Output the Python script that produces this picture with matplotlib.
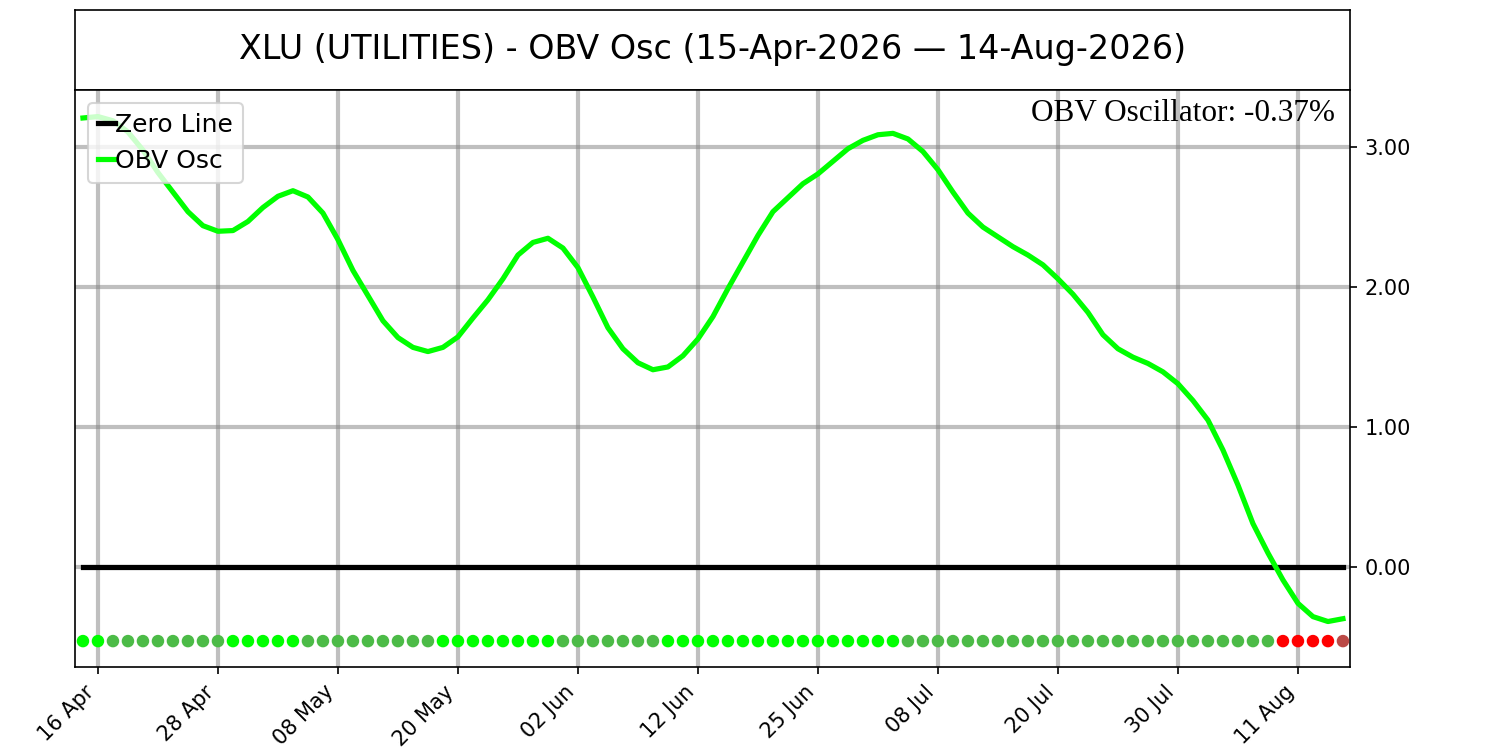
import matplotlib
matplotlib.use('Agg')
import matplotlib.pyplot as plt
import numpy as np
import pandas as pd

symbol = 'XLU'
sector = 'UTILITIES'
start_label = '15-Apr-2026'
end_label = '14-Aug-2026'

# NYSE holidays inside the window
holidays = ['2026-05-25', '2026-06-19', '2026-07-03']
dates = pd.bdate_range('2026-04-15', '2026-08-14', freq='C', holidays=holidays)

# OBV oscillator (%), one value per trading day
obv_osc = [
    3.21, 3.22, 3.19, 3.11, 2.98, 2.82, 2.68, 2.54, 2.44, 2.40,
    2.405, 2.47, 2.57, 2.65, 2.69, 2.645, 2.53, 2.34, 2.12, 1.94,
    1.76, 1.64, 1.57, 1.54, 1.57, 1.645, 1.78, 1.91, 2.06, 2.23,
    2.32, 2.35, 2.28, 2.14, 1.93, 1.71, 1.56, 1.46, 1.41, 1.43,
    1.51, 1.63, 1.79, 1.99, 2.18, 2.37, 2.54, 2.64, 2.74, 2.81,
    2.90, 2.99, 3.05, 3.09, 3.10, 3.06, 2.97, 2.84, 2.68, 2.53,
    2.43, 2.36, 2.29, 2.23, 2.16, 2.06, 1.95, 1.82, 1.66, 1.56,
    1.50, 1.455, 1.395, 1.31, 1.19, 1.05, 0.836, 0.586, 0.31, 0.10,
    -0.093, -0.26, -0.355, -0.39, -0.37,
]

x = np.arange(len(obv_osc))
y = np.array(obv_osc)

# dot colour: rising/falling above or below zero
diff = np.diff(y, prepend=y[0] - 1)
colors = []
for v, d in zip(y, diff):
    if v >= 0:
        colors.append('lime' if d > 0 else '#4cbb47')
    else:
        colors.append('#bb4a47' if d > 0 else 'red')

fig = plt.figure(figsize=(10, 5), dpi=150)

# title box
tax = fig.add_axes([0.05, 0.88, 0.85, 0.1067])
tax.set_xticks([])
tax.set_yticks([])
tax.text(0.5, 0.5, f'{symbol} ({sector}) - OBV Osc ({start_label} \u2014 {end_label})',
         ha='center', va='center', fontsize=16, transform=tax.transAxes)

ax = fig.add_axes([0.05, 0.1107, 0.85, 0.7693])
ax.plot(x, np.zeros(len(x)), color='black', lw=2.5, label='Zero Line')
ax.plot(x, y, color='lime', lw=2.5, label='OBV Osc')
ax.scatter(x, np.full(len(x), -0.53), c=colors, s=25, zorder=3)

ax.grid(True, color='gray', alpha=0.5, lw=2)
ax.set_axisbelow(True)

ax.set_xlim(-0.53, 84.47)
ax.set_ylim(-0.715, 3.41)
ax.yaxis.tick_right()
ax.set_yticks([0, 1, 2, 3])
ax.set_yticklabels([f'{v:.2f}' for v in [0, 1, 2, 3]])

tick_idx = list(range(1, len(x), 8))
ax.set_xticks(tick_idx)
ax.set_xticklabels([dates[i].strftime('%d %b') for i in tick_idx], rotation=45, ha='right')

ax.legend(loc='upper left', fontsize=12, handlelength=0.7, handletextpad=0.0,
          borderaxespad=0.5)

ax.text(0.988, 0.985, f'OBV Oscillator: {obv_osc[-1]:.2f}%', transform=ax.transAxes,
        ha='right', va='top', fontsize=15, family='Liberation Serif')

fig.savefig('out.png')
